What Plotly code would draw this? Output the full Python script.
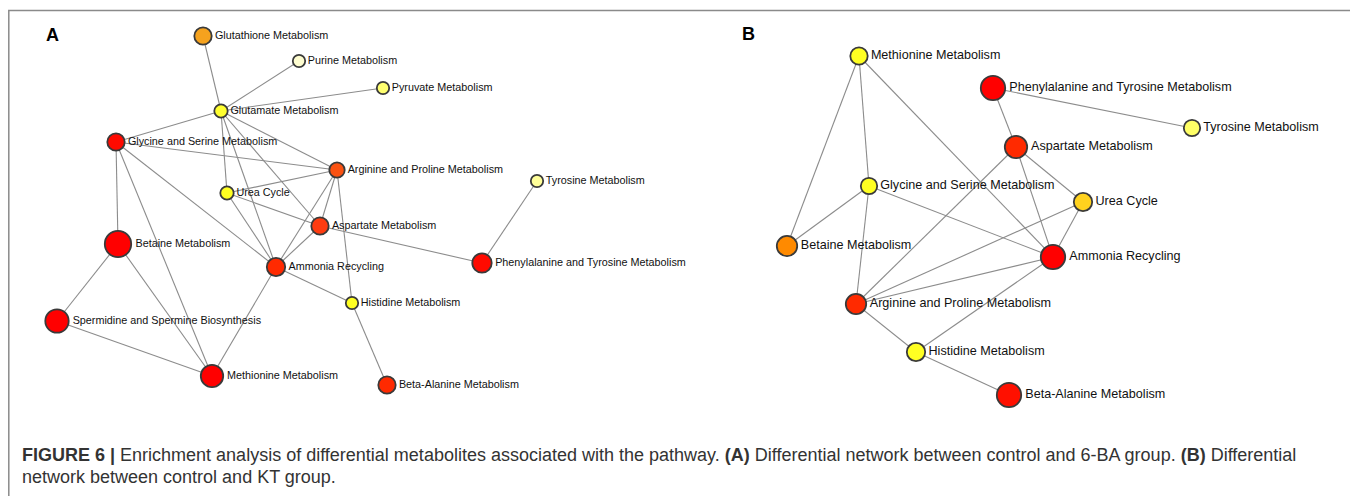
import plotly.graph_objects as go

# ---------------- Panel A: control vs 6-BA ----------------
a_names = [
    "Glutathione Metabolism", "Purine Metabolism", "Pyruvate Metabolism",
    "Glutamate Metabolism", "Glycine and Serine Metabolism",
    "Arginine and Proline Metabolism", "Urea Cycle", "Aspartate Metabolism",
    "Betaine Metabolism", "Ammonia Recycling",
    "Spermidine and Spermine Biosynthesis", "Methionine Metabolism",
    "Histidine Metabolism", "Beta-Alanine Metabolism",
    "Tyrosine Metabolism", "Phenylalanine and Tyrosine Metabolism",
]
a_x = [203, 299, 383, 221, 116, 337, 227, 320, 118, 276, 57, 212, 352, 387, 537, 482]
a_y = [36, 61, 88, 111, 142, 170, 193, 226, 244, 267, 321, 376, 303, 385, 181, 263]
a_radius = [9.5, 7, 7, 7.5, 9.5, 8.5, 7.5, 9.5, 14, 10, 12.5, 12, 7, 9.5, 7, 10.5]
a_color = ["#F5A21E", "#FEFDD0", "#FFFF70", "#FFFF30", "#FF0A00", "#FA5212",
           "#FFFF22", "#FF3C10", "#FF0000", "#FF2A00", "#FF0000", "#FF0000",
           "#FFFF22", "#FF2A00", "#FFFF99", "#FF0A00"]
a_edges = [
    ("Glutathione Metabolism", "Glutamate Metabolism"),
    ("Purine Metabolism", "Glutamate Metabolism"),
    ("Pyruvate Metabolism", "Glutamate Metabolism"),
    ("Glutamate Metabolism", "Glycine and Serine Metabolism"),
    ("Glutamate Metabolism", "Arginine and Proline Metabolism"),
    ("Glutamate Metabolism", "Urea Cycle"),
    ("Glutamate Metabolism", "Ammonia Recycling"),
    ("Glutamate Metabolism", "Aspartate Metabolism"),
    ("Glycine and Serine Metabolism", "Arginine and Proline Metabolism"),
    ("Glycine and Serine Metabolism", "Betaine Metabolism"),
    ("Glycine and Serine Metabolism", "Methionine Metabolism"),
    ("Glycine and Serine Metabolism", "Ammonia Recycling"),
    ("Urea Cycle", "Arginine and Proline Metabolism"),
    ("Urea Cycle", "Ammonia Recycling"),
    ("Urea Cycle", "Aspartate Metabolism"),
    ("Arginine and Proline Metabolism", "Aspartate Metabolism"),
    ("Arginine and Proline Metabolism", "Ammonia Recycling"),
    ("Arginine and Proline Metabolism", "Histidine Metabolism"),
    ("Aspartate Metabolism", "Ammonia Recycling"),
    ("Aspartate Metabolism", "Phenylalanine and Tyrosine Metabolism"),
    ("Ammonia Recycling", "Histidine Metabolism"),
    ("Ammonia Recycling", "Methionine Metabolism"),
    ("Histidine Metabolism", "Beta-Alanine Metabolism"),
    ("Tyrosine Metabolism", "Phenylalanine and Tyrosine Metabolism"),
    ("Betaine Metabolism", "Spermidine and Spermine Biosynthesis"),
    ("Betaine Metabolism", "Methionine Metabolism"),
    ("Spermidine and Spermine Biosynthesis", "Methionine Metabolism"),
]

# ---------------- Panel B: control vs KT ----------------
b_names = [
    "Methionine Metabolism", "Phenylalanine and Tyrosine Metabolism",
    "Tyrosine Metabolism", "Aspartate Metabolism",
    "Glycine and Serine Metabolism", "Urea Cycle", "Betaine Metabolism",
    "Ammonia Recycling", "Arginine and Proline Metabolism",
    "Histidine Metabolism", "Beta-Alanine Metabolism",
]
b_x = [859, 993, 1192, 1016, 869, 1083, 787, 1053, 856, 916, 1009]
b_y = [56, 88, 128, 147, 186, 202, 246, 257, 304, 352, 395]
b_radius = [9.5, 13, 9, 12, 9, 10, 11, 13, 11, 10, 13]
b_color = ["#FFFF22", "#FF0000", "#FFFF66", "#FF2A00", "#FFFF22", "#FFD21E",
           "#FF8A00", "#FF0000", "#FF2A00", "#FFFF22", "#FF1000"]
b_edges = [
    ("Methionine Metabolism", "Betaine Metabolism"),
    ("Methionine Metabolism", "Glycine and Serine Metabolism"),
    ("Methionine Metabolism", "Ammonia Recycling"),
    ("Phenylalanine and Tyrosine Metabolism", "Aspartate Metabolism"),
    ("Phenylalanine and Tyrosine Metabolism", "Tyrosine Metabolism"),
    ("Aspartate Metabolism", "Arginine and Proline Metabolism"),
    ("Aspartate Metabolism", "Ammonia Recycling"),
    ("Aspartate Metabolism", "Urea Cycle"),
    ("Glycine and Serine Metabolism", "Betaine Metabolism"),
    ("Glycine and Serine Metabolism", "Arginine and Proline Metabolism"),
    ("Glycine and Serine Metabolism", "Ammonia Recycling"),
    ("Urea Cycle", "Ammonia Recycling"),
    ("Urea Cycle", "Arginine and Proline Metabolism"),
    ("Ammonia Recycling", "Arginine and Proline Metabolism"),
    ("Ammonia Recycling", "Histidine Metabolism"),
    ("Arginine and Proline Metabolism", "Histidine Metabolism"),
    ("Histidine Metabolism", "Beta-Alanine Metabolism"),
]

caption_line1 = ("<b>FIGURE 6 |</b> Enrichment analysis of differential metabolites associated "
                 "with the pathway. <b>(A)</b> Differential network between control and 6-BA "
                 "group. <b>(B)</b> Differential")
caption_line2 = "network between control and KT group."

# page offset of the plot (browser body margin) is absorbed in the axis ranges
OFF = 8
W, H = 1358 - OFF, 496 - OFF
FONT = "Arial, Liberation Sans, Helvetica, sans-serif"

fig = go.Figure()


def add_network(names, xs, ys, radii, colors, edges, fsize):
    pos = {n: (x, y) for n, x, y in zip(names, xs, ys)}
    ex, ey = [], []
    for a, b in edges:
        ex += [pos[a][0], pos[b][0], None]
        ey += [pos[a][1], pos[b][1], None]
    fig.add_trace(go.Scatter(x=ex, y=ey, mode="lines",
                             line=dict(color="#8c8c8c", width=1.1),
                             hoverinfo="skip", showlegend=False))
    fig.add_trace(go.Scatter(
        x=xs, y=ys, mode="markers+text", text=names,
        textposition="middle right",
        textfont=dict(family=FONT, size=fsize, color="#111111"),
        marker=dict(size=[2 * r - 1.6 for r in radii], color=colors,
                    line=dict(color="#3a3a3a", width=1.8), opacity=1),
        hoverinfo="text", showlegend=False, cliponaxis=False))


add_network(a_names, a_x, a_y, a_radius, a_color, a_edges, 10.8)
add_network(b_names, b_x, b_y, b_radius, b_color, b_edges, 12.6)

fig.update_layout(
    width=W, height=H, margin=dict(l=0, r=0, t=0, b=0),
    paper_bgcolor="white", plot_bgcolor="white",
    xaxis=dict(range=[OFF, OFF + W], visible=False, fixedrange=True),
    yaxis=dict(range=[OFF + H, OFF], visible=False, fixedrange=True),
    shapes=[dict(type="rect", xref="x", yref="y", x0=8.8, x1=1355, y0=10.5, y1=OFF + H + 20,
                 line=dict(color="#8a8a8a", width=1.5), layer="below")],
    annotations=[
        dict(x=52, y=35, xref="x", yref="y", text="<b>A</b>", showarrow=False,
             font=dict(family=FONT, size=18, color="#000000")),
        dict(x=748, y=34, xref="x", yref="y", text="<b>B</b>", showarrow=False,
             font=dict(family=FONT, size=18, color="#000000")),
        dict(x=20, y=455, xref="x", yref="y", text=caption_line1, showarrow=False,
             xanchor="left", yanchor="middle",
             font=dict(family=FONT, size=18, color="#333333")),
        dict(x=20, y=477, xref="x", yref="y", text=caption_line2, showarrow=False,
             xanchor="left", yanchor="middle",
             font=dict(family=FONT, size=18, color="#333333")),
    ],
)

fig.write_html("out.html")
